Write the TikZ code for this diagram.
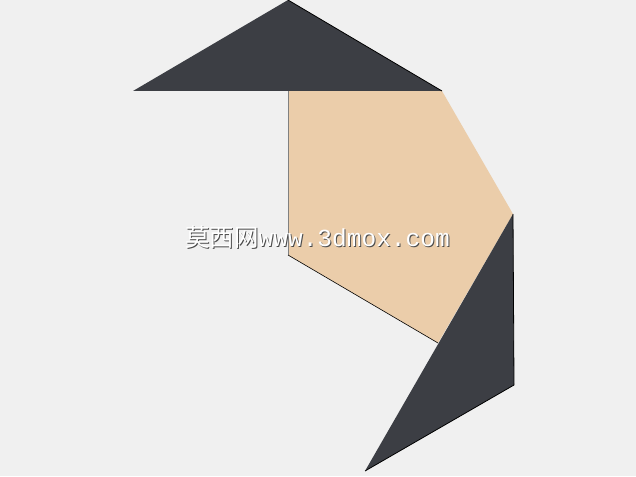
\documentclass[tikz,border=0pt]{standalone}
\usepackage{fontspec}
\newfontfamily\cjk{Noto Sans CJK SC}
\newfontfamily\wmono{Liberation Mono}
\definecolor{bgcol}{HTML}{F0F0F0}
\definecolor{darkcol}{HTML}{3C3E44}
\definecolor{tancol}{HTML}{EBCDAA}
\begin{document}
\begin{tikzpicture}[x=1pt,y=-1pt]
\fill[bgcol](0,0)rectangle(636,476);
\useasboundingbox(0,0)rectangle(636,476);
\coordinate(TL) at(133,91);
\coordinate(TT) at(288,0);
\coordinate(TR) at(442,91);
\coordinate(P1) at(288,91);
\coordinate(P2) at(513,214);
\coordinate(P3) at(438,343);
\coordinate(P4) at(288,255);
\coordinate(BR) at(514,385);
\coordinate(BB) at(365,471);
\fill[tancol](P1)--(TR)--(P2)--(P3)--(P4)--cycle;
\fill[darkcol](TL)--(TT)--(TR)--cycle;
\fill[darkcol](P2)--(BR)--(BB)--cycle;
\draw[line width=0.8pt](TT)--(TR);
\draw[gray,line width=0.6pt](P1)--(P4);
\draw[line width=0.6pt](P4)--(P3);
\draw[line width=0.8pt](P2)--(BR)--(BB);
\node[gray!60!black,font=\fontsize{24.5}{24.5}\selectfont](shadow) at(318.5,238.5){{\cjk 莫西网}{\wmono www.3dmox.com}};
\node[white,font=\fontsize{24.5}{24.5}\selectfont](mark) at(317.5,237){{\cjk 莫西网}{\wmono www.3dmox.com}};
\end{tikzpicture}
\end{document}
